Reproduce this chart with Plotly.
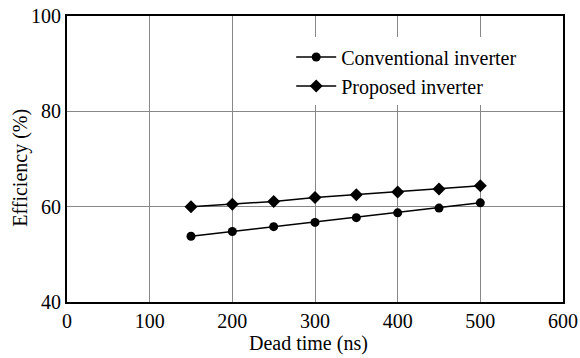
import plotly.graph_objects as go

dead_time = [150, 200, 250, 300, 350, 400, 450, 500]
conventional = [53.8, 54.8, 55.8, 56.7, 57.7, 58.7, 59.7, 60.8]
proposed = [60.0, 60.5, 61.1, 61.9, 62.5, 63.1, 63.7, 64.4]

x_ticks = [0, 100, 200, 300, 400, 500, 600]
y_ticks = [40, 60, 80, 100]

font_family = "Liberation Serif, Times New Roman, serif"

fig = go.Figure()
fig.add_trace(go.Scatter(
    x=dead_time, y=conventional, name="Conventional inverter",
    mode="lines+markers",
    line=dict(color="black", width=1.5),
    marker=dict(symbol="circle", size=9, color="black"),
))
fig.add_trace(go.Scatter(
    x=dead_time, y=proposed, name="Proposed inverter",
    mode="lines+markers",
    line=dict(color="black", width=1.5),
    marker=dict(symbol="diamond", size=10, color="black"),
))

fig.update_layout(
    width=580, height=358,
    margin=dict(l=67, r=17, t=16, b=56),
    paper_bgcolor="white", plot_bgcolor="white",
    font=dict(family=font_family, size=20, color="black"),
    showlegend=True,
    legend=dict(
        x=0.452, y=0.925, xanchor="left", yanchor="top",
        bgcolor="rgba(255,255,255,1)", borderwidth=0,
        font=dict(family=font_family, size=20, color="black"),
        itemwidth=40, tracegroupgap=0,
    ),
    xaxis=dict(
        range=[0, 600], tickvals=x_ticks, ticks="", ticklen=0,
        showgrid=True, gridcolor="#888888", gridwidth=1,
        showline=True, linecolor="black", linewidth=2, mirror=True,
        zeroline=False, automargin=False,
        tickfont=dict(size=20, color="black"),
    ),
    yaxis=dict(
        range=[40, 100], tickvals=y_ticks, ticks="", ticklen=0,
        showgrid=True, gridcolor="#888888", gridwidth=1,
        showline=True, linecolor="black", linewidth=2, mirror=True,
        zeroline=False, automargin=False,
        tickfont=dict(size=20, color="black"),
    ),
    annotations=[
        dict(text="Dead time (ns)", xref="paper", yref="paper",
             x=0.486, y=-0.144, xanchor="center", yanchor="middle",
             showarrow=False, font=dict(size=20, color="#000000")),
        dict(text="Efficiency (%)", xref="paper", yref="paper",
             x=-0.093, y=0.469, xanchor="center", yanchor="middle",
             textangle=-90, showarrow=False, font=dict(size=20, color="#000000")),
    ],
)

fig.write_html("out.html")
